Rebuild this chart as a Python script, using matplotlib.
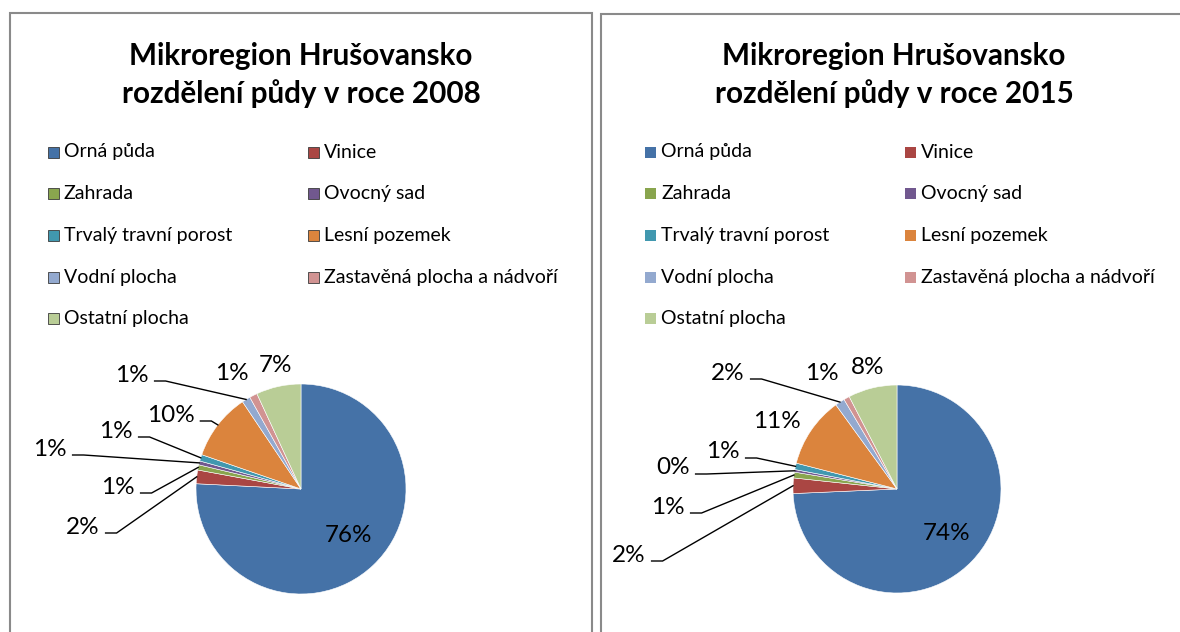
import matplotlib
matplotlib.use("Agg")
import matplotlib.pyplot as plt
from matplotlib.patches import Rectangle
import math

# ---------------- data ----------------
categories = ["Orná půda", "Vinice", "Zahrada", "Ovocný sad",
              "Trvalý travní porost", "Lesní pozemek", "Vodní plocha",
              "Zastavěná plocha a nádvoří", "Ostatní plocha"]
share_2008 = [75.8, 2.1, 0.8, 0.6, 1.0, 10.3, 1.3, 1.2, 6.9]
share_2015 = [74.3, 2.4, 0.9, 0.4, 1.0, 11.0, 1.5, 0.9, 7.6]
title_line1 = "Mikroregion Hrušovansko"
title_2008 = "rozdělení půdy v roce 2008"
title_2015 = "rozdělení půdy v roce 2015"

colors = ["#4572A7", "#AA4643", "#89A54E", "#71588F", "#4198AF",
          "#DB843D", "#93A9CF", "#D19392", "#B9CD96"]

# ---------------- layout (pixel space, y from top) ----------------
W, H = 1180, 632
FONT = "Lato"

def Y(py):
    return H - py

fig = plt.figure(figsize=(W / 100, H / 100), dpi=100)
ax = fig.add_axes([0, 0, 1, 1])

panels = [
    dict(values=share_2008, title2=title_2008, box_x0=9.5, box_top=13,
         box_x1=592, dx=0, title_x=301, center=(301, 489), radius=105,
         sq_edge=True,
         label_pos=[(348, 535), (83, 527), (118, 487), (50, 449), (116, 431),
                    (171, 415), (132, 375), (232, 373), (275, 365)],
         leader=[False, True, True, True, True, True, True, False, False]),
    dict(values=share_2015, title2=title_2015, box_x0=600.5, box_top=14,
         box_x1=1195, dx=597, title_x=894, center=(897, 489), radius=104,
         sq_edge=False,
         label_pos=[(947, 533), (629, 555), (668, 507), (673, 468), (723, 452),
                    (777, 422), (728, 373), (822, 373), (868, 368)],
         leader=[False, True, True, True, True, False, True, False, False]),
]

for p in panels:
    # panel border
    ax.add_patch(Rectangle((p["box_x0"], Y(H + 20)), p["box_x1"] - p["box_x0"],
                           (H + 20) - p["box_top"], fill=False,
                           edgecolor="#8a8a8a", linewidth=1.5, zorder=1))
    # title
    ax.text(p["title_x"], Y(65), title_line1, ha="center", va="baseline",
            fontsize=21.3, fontweight="bold", family=FONT, color="black")
    ax.text(p["title_x"], Y(103), p["title2"], ha="center", va="baseline",
            fontsize=21.3, fontweight="bold", family=FONT, color="black")
    # legend (row-major, 2 columns)
    for i, (cat, col) in enumerate(zip(categories, colors)):
        r, c = divmod(i, 2)
        sx = 48 + c * 260 + p["dx"]
        sy = 152 + r * 41.7
        ax.add_patch(Rectangle((sx, Y(sy) - 5.5), 11, 11, facecolor=col,
                               edgecolor=("#3a3a3a" if p["sq_edge"] else col),
                               linewidth=0.6 if p["sq_edge"] else 0, zorder=3))
        ax.text(sx + 16, Y(sy), cat, ha="left", va="center", fontsize=14,
                family=FONT, color="black")
    # pie
    cx, cy = p["center"]
    rad = p["radius"]
    wedges, _ = ax.pie(p["values"], colors=colors, startangle=90,
                       counterclock=False, center=(cx, Y(cy)), radius=rad,
                       wedgeprops=dict(edgecolor="#ffffff", linewidth=0.4))
    for w in wedges:
        w.set_zorder(2)
    # data labels
    total = sum(p["values"])
    cum = 0.0
    for v, (tx, ty), has_leader in zip(p["values"], p["label_pos"], p["leader"]):
        mid = cum + v / 2.0
        cum += v
        lab = f"{round(v / total * 100)}%"
        ax.text(tx, Y(ty), lab, ha="center", va="center", fontsize=17.5,
                family=FONT, color="black", zorder=5)
        if has_leader:
            ang = math.radians(90 - mid / total * 360.0)
            ex = cx + rad * math.cos(ang)
            ey = Y(cy) + rad * math.sin(ang)
            x0 = tx + 6.8 * len(lab) + 9
            x1 = x0 + 11
            ly = Y(ty + 6)
            ax.plot([x0, x1, ex], [ly, ly, ey], color="black", linewidth=1.0,
                    solid_joinstyle="miter", zorder=4)

ax.set_xlim(0, W)
ax.set_ylim(0, H)
ax.set_aspect("auto")
ax.set_position([0, 0, 1, 1])
ax.axis("off")

fig.savefig("out.png", dpi=100, facecolor="white")
